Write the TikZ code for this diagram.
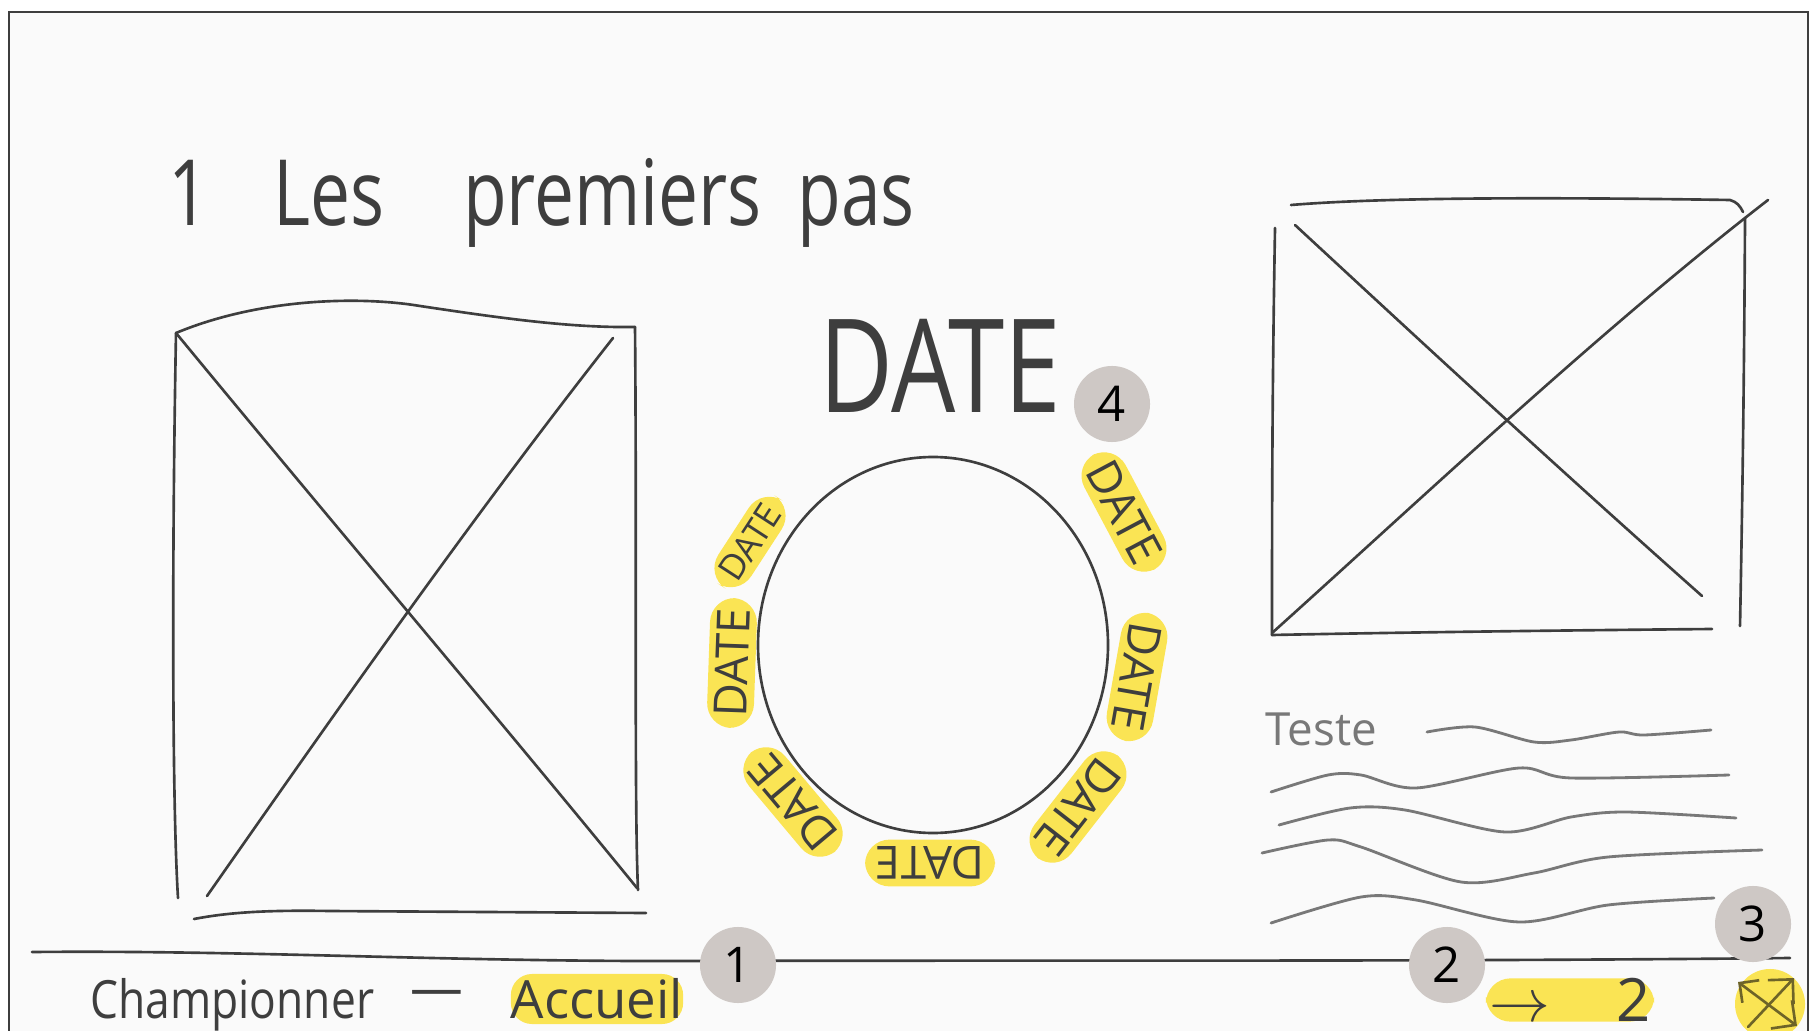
\documentclass[tikz,border=0pt]{standalone}
\usepackage{fontspec}
\setmainfont{Open Sans}
\usetikzlibrary{arrows.meta,calc}
\definecolor{paper}{RGB}{250,250,250}
\definecolor{pencil}{RGB}{62,62,62}
\definecolor{softpencil}{RGB}{120,120,120}
\definecolor{hl}{RGB}{250,228,84}
\definecolor{badgegrey}{RGB}{206,200,197}
\definecolor{olive}{RGB}{110,100,40}
\begin{document}
\begin{tikzpicture}[x=0.01cm,y=-0.01cm,
  pen/.style={draw=pencil, line width=0.75pt, line cap=round, line join=round},
  wave/.style={draw=softpencil, line width=0.8pt, line cap=round},
  hand/.style={text=pencil, inner sep=0pt},
  datelbl/.style={fill=hl, text=pencil, rounded corners=7pt, inner xsep=3pt, inner ysep=2pt, font=\fontsize{13}{13}\selectfont},
  badgenode/.style={circle, fill=badgegrey, minimum size=0.76cm, inner sep=0pt, text=black, font=\fontsize{14}{14}\selectfont}
]
\useasboundingbox (0,0) rectangle (1816,1031);
\fill[white] (0,0) rectangle (1816,1031);
\fill[paper] (9,12) rectangle (1808,1031);
\draw[pencil, line width=0.7pt] (9,1031) -- (9,12) -- (1808,12) -- (1808,1031);

% title
\node[hand, anchor=base west, xscale=0.78, font=\fontsize{26}{26}\selectfont] (title) at (168,226)
  {1\hspace{0.9em}Les\hspace{1.1em}premiers\hspace{0.5em}pas};

% left image placeholder
\draw[pen] (176,333) .. controls (260,298) and (360,296) .. (420,306)
  .. controls (500,318) and (570,328) .. (635,327);
\draw[pen] (176,333) .. controls (172,550) and (172,800) .. (178,898);
\draw[pen] (635,327) .. controls (637,550) and (634,800) .. (638,890);
\draw[pen] (176,333) .. controls (330,520) and (500,720) .. (637,888);
\draw[pen] (613,338) .. controls (470,520) and (330,720) .. (207,896);
\draw[pen] (194,919) .. controls (230,912) and (270,910) .. (330,911)
  -- (646,913);

% big DATE
\node[hand, xscale=0.78, font=\fontsize{37}{37}\selectfont] (bigdate) at (940,366) {DATE};
\node[badgenode] (b4) at (1112,404) {4};

% circle
\draw[pen] (933,645) ellipse [x radius=175, y radius=188];

% DATE labels around the circle
\node[datelbl, rotate=57, font=\fontsize{10}{10}\selectfont] (d1) at (750,542) {DATE};
\node[datelbl, rotate=88] (d2) at (732,663) {DATE};
\node[datelbl, rotate=130] (d3) at (793,802) {DATE};
\node[datelbl, rotate=180] (d4) at (930,863) {DATE};
\node[datelbl, rotate=232] (d5) at (1078,807) {DATE};
\node[datelbl, rotate=-100] (d6) at (1137,677) {DATE};
\node[datelbl, rotate=-62] (d7) at (1124,512) {DATE};

% right image placeholder
\draw[pen] (1291,205) .. controls (1400,196) and (1600,198) .. (1730,200)
  .. controls (1737,202) and (1740,206) .. (1743,212);
\draw[pen] (1275,228) .. controls (1272,400) and (1272,520) .. (1272,635);
\draw[pen] (1745,218) .. controls (1744,400) and (1742,520) .. (1740,626);
\draw[pen] (1272,635) .. controls (1420,632) and (1600,630) .. (1712,629);
\draw[pen] (1295,225) .. controls (1430,350) and (1560,470) .. (1702,596);
\draw[pen] (1272,633) .. controls (1420,500) and (1600,330) .. (1768,200);

% text block
\node[hand, text=softpencil, anchor=base west, font=\fontsize{13}{13}\selectfont] (teste) at (1265,745) {Teste};
\draw[wave] plot[smooth] coordinates {(1427,732) (1475,727) (1534,742) (1571,740) (1619,732) (1644,735) (1711,730)};
\draw[wave] plot[smooth] coordinates {(1271,792) (1328,775) (1361,775) (1416,788) (1519,768) (1571,778) (1729,775)};
\draw[wave] plot[smooth] coordinates {(1279,825) (1350,808) (1405,810) (1505,832) (1571,817) (1626,812) (1736,818)};
\draw[wave] plot[smooth] coordinates {(1262,853) (1328,840) (1361,847) (1461,882) (1534,873) (1608,857) (1762,850)};
\draw[wave] plot[smooth] coordinates {(1271,923) (1361,897) (1416,900) (1519,922) (1608,905) (1714,898)};

% footer separator
\draw[pen] (32,952) .. controls (250,950) and (450,962) .. (695,961)
  .. controls (1000,960) and (1400,962) .. (1790,958);

% footer items
\node[hand, anchor=base west, xscale=0.84, font=\fontsize{15}{15}\selectfont] (champ) at (90,1018) {Championner};
\node[hand, font=\fontsize{15}{15}\selectfont] (dash) at (437,998) {---};
\node[fill=hl, rounded corners=6pt, inner sep=0pt, minimum width=1.59cm, minimum height=0.5cm,
  text=pencil, font=\fontsize{15}{15}\selectfont] (accueil) at (597,999) {Accueil};
\node[badgenode] (b1) at (738,965) {1};

\node[fill=hl, rounded corners=7pt, inner sep=0pt, minimum width=1.68cm, minimum height=0.43cm,
  text=pencil, font=\fontsize{17}{17}\selectfont] (next) at (1570,1000) {$\rightarrow$\hspace{1.1em}2};
\node[badgenode] (b2) at (1447,965) {2};

\node[circle, fill=hl, minimum size=0.7cm, inner sep=0pt] (full) at (1770,1004) {};
\coordinate (fa) at (1748,1027);
\coordinate (fb) at (1794,978);
\coordinate (fc) at (1738,982);
\coordinate (fd) at (1797,1026);
\draw[pen, draw=olive, -{Straight Barb[length=5pt]}] (fa) -- (fb);
\draw[pen, draw=olive, {Straight Barb[length=4pt]}-{Straight Barb[length=5pt]}] (fc) -- (fd);
\node[badgenode] (b3) at (1753,924) {3};
\end{tikzpicture}
\end{document}
